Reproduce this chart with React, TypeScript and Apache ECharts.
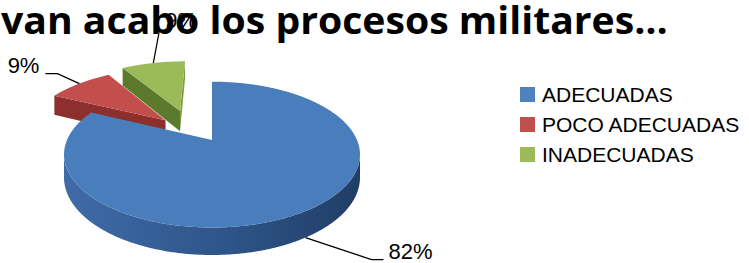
import React, { useEffect, useRef } from 'react';
import * as echarts from 'echarts';

// ---- data ----
const CATEGORIES = ['ADECUADAS', 'POCO ADECUADAS', 'INADECUADAS'];
const VALUES = [82, 9, 9];
const PERCENT_LABELS = ['82%', '9%', '9%'];
const TITLE_TEXT = 'van acabo los procesos militares…';

// ---- styles ----
const TOP_COLORS = ['#4A7DBB', '#C24F4B', '#9BBB59'];
const LEGEND_COLORS = ['#4F81BD', '#C0504D', '#9BBB59'];
const START_FACE_COLORS = ['#2E5589', '#8C2F2D', '#5B7A2B'];
const END_FACE_COLORS = ['#2E5589', '#8C2F2D', '#7C9C3E'];
const WALL_STOPS = [
  [
    { offset: 0, color: '#3F6BA8' },
    { offset: 0.55, color: '#2E5589' },
    { offset: 1, color: '#203D66' },
  ],
  [
    { offset: 0, color: '#9A3431' },
    { offset: 1, color: '#7A2826' },
  ],
  [
    { offset: 0, color: '#6A8B33' },
    { offset: 1, color: '#55742A' },
  ],
];

// ---- pseudo-3D geometry (pixels) ----
const CX = 212;
const CY = 140;
const RX = 145;
const RY = 70;
const PERSP = 0.2;
const DEPTH = 22;
const CAM_V = -1 / PERSP;
const EXPLODE = [
  [0, 0],
  [-0.34, 0.3],
  [-0.24, 0.45],
];
// label leader layout relative to the anchor on the slice
const LABEL_LAYOUT = [
  { onBottom: true, elbow: [66, 22], end: [78, 22], align: 'right-of', text: [5, -7.6] },
  { onBottom: false, elbow: [-22, -10], end: [-34, -10], align: 'left-of', text: [-6, -8] },
  { onBottom: false, elbow: [6, -32], end: [6, -32], align: 'right-of', text: [6, -10] },
];

const TOTAL = VALUES.reduce((a, b) => a + b, 0);
const rad = (d: number) => (d * Math.PI) / 180;
function project(u: number, v: number, h: number): number[] {
  const p = 1 / (1 + PERSP * v);
  return [CX + RX * u * p, CY - RY * v * p - h * p];
}
function sliceAngles(i: number): number[] {
  let s = 0;
  for (let k = 0; k < i; k++) s += VALUES[k];
  return [(s / TOTAL) * 360, ((s + VALUES[i]) / TOTAL) * 360];
}

function buildSlice(i: number) {
  const [a0, a1] = sliceAngles(i);
  const [ou, ov] = EXPLODE[i];
  const rim = (deg: number, h: number) => {
    const t = rad(deg);
    return project(ou + Math.sin(t), ov + Math.cos(t), h);
  };
  const center = (h: number) => project(ou, ov, h);
  const steps = Math.max(4, Math.ceil((a1 - a0) * 2));
  const degs: number[] = [];
  for (let k = 0; k <= steps; k++) degs.push(a0 + ((a1 - a0) * k) / steps);
  const children: any[] = [];

  // outer wall
  const wallVisible = (deg: number) => {
    const t = rad(deg);
    const nu = Math.sin(t);
    const nv = Math.cos(t);
    const pu = ou + nu;
    const pv = ov + nv;
    return nu * (0 - pu) + nv * (CAM_V - pv) > 0;
  };
  let run: number[] = [];
  const flush = () => {
    if (run.length > 1) {
      const top = run.map((d) => rim(d, 0));
      const bot = run
        .slice()
        .reverse()
        .map((d) => rim(d, -DEPTH));
      children.push({
        type: 'polygon',
        z2: 2,
        shape: { points: [...top, ...bot] },
        style: {
          fill: new echarts.graphic.LinearGradient(0, 0, 1, 0, WALL_STOPS[i]),
          stroke: null,
        },
      });
    }
    run = [];
  };
  degs.forEach((d) => {
    if (wallVisible(d)) run.push(d);
    else flush();
  });
  flush();

  // radial faces
  const faceVisible = (deg: number, sign: number) => {
    const t = rad(deg);
    const nu = sign * Math.cos(t);
    const nv = -sign * Math.sin(t);
    const pu = ou + 0.5 * Math.sin(t);
    const pv = ov + 0.5 * Math.cos(t);
    return nu * (0 - pu) + nv * (CAM_V - pv) > 0.05;
  };
  [
    [a0, -1, START_FACE_COLORS[i]],
    [a1, 1, END_FACE_COLORS[i]],
  ].forEach(([deg, sign, color]: any) => {
    if (faceVisible(deg, sign)) {
      children.push({
        type: 'polygon',
        z2: 1,
        shape: { points: [center(0), rim(deg, 0), rim(deg, -DEPTH), center(-DEPTH)] },
        style: { fill: color, stroke: null },
      });
    }
  });

  // top face
  children.push({
    type: 'polygon',
    z2: 10,
    shape: { points: [center(0), ...degs.map((d) => rim(d, 0))] },
    style: { fill: TOP_COLORS[i], stroke: null },
  });

  // label with leader line
  const lay = LABEL_LAYOUT[i];
  const mid = (a0 + a1) / 2;
  const anchor = rim(mid, lay.onBottom ? -DEPTH : 0);
  const elbow = [anchor[0] + lay.elbow[0], anchor[1] + lay.elbow[1]];
  const end = [anchor[0] + lay.end[0], anchor[1] + lay.end[1]];
  children.push({
    type: 'polyline',
    z2: 20,
    shape: { points: [anchor, elbow, end] },
    style: { stroke: '#000', lineWidth: 1.3, fill: null },
  });
  children.push({
    type: 'text',
    z2: 21,
    x: end[0] + lay.text[0],
    y: end[1] + lay.text[1],
    style: {
      text: PERCENT_LABELS[i],
      fill: '#000',
      fontFamily: 'Liberation Sans',
      fontSize: 22,
      align: lay.align === 'left-of' ? 'right' : 'left',
      verticalAlign: 'middle',
    },
  });

  return { type: 'group', children };
}

function measureTitle(font: string): number {
  try {
    const c = document.createElement('canvas');
    const ctx = c.getContext('2d');
    if (!ctx) return 0;
    ctx.font = font;
    return ctx.measureText(TITLE_TEXT).width;
  } catch (e) {
    return 0;
  }
}

export default function App() {
  const ref = useRef<HTMLDivElement>(null);
  useEffect(() => {
    document.body.style.margin = '0';
    if (!ref.current) return;
    const chart = echarts.init(ref.current, undefined, { renderer: 'svg' });
    const titleFont = 'bold 37px "Open Sans"';
    const w = measureTitle(titleFont);
    const scaleX = w > 0 ? 667 / w : 1;
    chart.setOption({
      animation: false,
      backgroundColor: '#fff',
      legend: {
        orient: 'vertical',
        left: 520,
        top: 84,
        padding: 0,
        itemWidth: 15,
        itemHeight: 15,
        itemGap: 9,
        icon: 'rect',
        selectedMode: false,
        data: CATEGORIES,
        textStyle: {
          fontFamily: 'Liberation Sans',
          fontSize: 21,
          color: '#000',
          padding: [0, 0, 0, 2],
        },
      },
      graphic: [
        {
          type: 'text',
          z: 100,
          x: 1,
          y: 19,
          scaleX,
          style: {
            text: TITLE_TEXT,
            fontFamily: 'Open Sans',
            fontWeight: 'bold',
            fontSize: 37,
            fill: '#000',
            align: 'left',
            verticalAlign: 'middle',
          },
        },
      ],
      series: CATEGORIES.map((name, i) => ({
        type: 'custom',
        name,
        coordinateSystem: 'none',
        silent: true,
        itemStyle: { color: LEGEND_COLORS[i] },
        data: [[VALUES[i]]],
        renderItem: () => buildSlice(i),
      })),
    });
    return () => chart.dispose();
  }, []);
  return <div ref={ref} style={{ width: 749, height: 263 }} />;
}
